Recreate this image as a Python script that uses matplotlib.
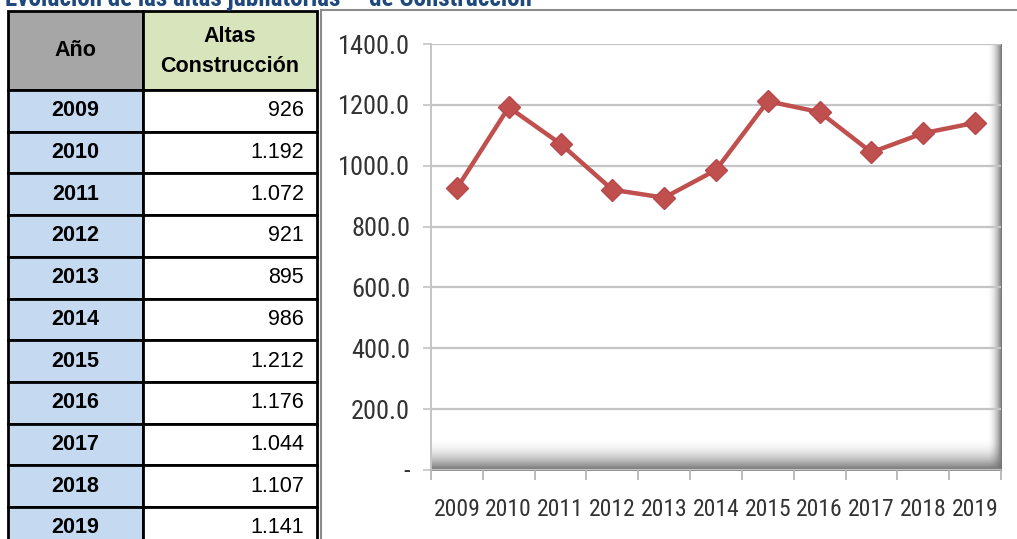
#!/usr/bin/env python3
"""Altas jubilatorias de Construccion: tabla + grafico de linea."""

import numpy as np
import matplotlib
matplotlib.use('Agg')
from matplotlib import pyplot as plt
from matplotlib import font_manager
from matplotlib.patches import Rectangle

# data
years = ['2009', '2010', '2011', '2012', '2013', '2014', '2015', '2016', '2017', '2018', '2019']
altas = [926, 1192, 1072, 921, 895, 986, 1212, 1176, 1044, 1107, 1141]
altas_txt = ['926', '1.192', '1.072', '921', '895', '986', '1.212', '1.176', '1.044', '1.107', '1.141']
yticks = [0, 200, 400, 600, 800, 1000, 1200, 1400]
ytick_labels = ['-', '200.0', '400.0', '600.0', '800.0', '1000.0', '1200.0', '1400.0']
title = 'Evolución de las altas jubilatorias     de Construcción'

W, H = 1017, 539
installed = {f.name for f in font_manager.fontManager.ttflist}
narrow = [f for f in ['Liberation Sans Narrow', 'Roboto Condensed', 'Lato'] if f in installed]
NARROW = narrow[:1] + ['DejaVu Sans']
ARIAL = ['Liberation Sans', 'DejaVu Sans']
is_lato = NARROW[0] == 'Lato'
xfs = 15 if is_lato else 17
yfs = 16 if is_lato else 19

fig = plt.figure(figsize=(W/100, H/100), dpi=100)
fig.patch.set_facecolor('white')

# pixel-space overlay for the table and frame
bg = fig.add_axes([0, 0, 1, 1])
bg.set_xlim(0, W)
bg.set_ylim(H, 0)
bg.axis('off')

# title, mostly clipped at the top edge
bg.text(5, 6, title, fontsize=18, fontweight='bold', color='#1f497d',
        family=NARROW, ha='left', va='baseline')

# table
x0, x1, x2 = 8, 143, 317
head_top, head_bot = 11, 90
row_h = 41.7
fs = 15.5
bg.add_patch(Rectangle((x0, head_top), x1-x0, head_bot-head_top, fc='#a6a6a6', ec='black', lw=2))
bg.add_patch(Rectangle((x1, head_top), x2-x1, head_bot-head_top, fc='#d8e4bc', ec='black', lw=2))
bg.text((x0+x1)/2, 50, 'Año', fontsize=fs, fontweight='bold', family=ARIAL, ha='center', va='center')
bg.text((x1+x2)/2, 36, 'Altas', fontsize=fs, fontweight='bold', family=ARIAL, ha='center', va='center')
bg.text((x1+x2)/2, 66, 'Construcción', fontsize=fs, fontweight='bold', family=ARIAL, ha='center', va='center')
for i, (yr, v) in enumerate(zip(years, altas_txt)):
    top = head_bot + i*row_h
    bg.add_patch(Rectangle((x0, top), x1-x0, row_h, fc='#c5d9f1', ec='black', lw=2))
    bg.add_patch(Rectangle((x1, top), x2-x1, row_h, fc='white', ec='black', lw=2))
    bg.text((x0+x1)/2, top + row_h/2, yr, fontsize=fs, fontweight='bold', family=ARIAL,
            ha='center', va='center')
    bg.text(304, top + row_h/2, v, fontsize=fs, family=ARIAL, ha='right', va='center')

# chart frame
bg.plot([321, 321], [10, H], color='#8c8c8c', lw=1.5)
bg.plot([321, W], [10, 10], color='#8c8c8c', lw=1.5)

# line chart
L, R, T, B = 431, 1001, 44, 470
ax = fig.add_axes([L/W, 1-B/H, (R-L)/W, (B-T)/H])
ax.set_facecolor('white')
x = np.arange(len(years))

# bevel shadows along the bottom and right side of the plot area
grad = np.zeros((50, 1, 4))
grad[..., :3] = 0.45
grad[:, 0, 3] = np.linspace(0, 1, 50)**2
ax.imshow(grad, extent=(0, 1, 0, 0.075), transform=ax.transAxes, aspect='auto', zorder=1)
gradr = np.zeros((1, 50, 4))
gradr[..., :3] = 0.45
gradr[0, :, 3] = np.linspace(0, 1, 50)**2
ax.imshow(gradr, extent=(0.975, 1, 0, 1), transform=ax.transAxes, aspect='auto', zorder=1)

ax.set_ylim(0, 1400)
ax.set_xlim(-0.5, len(years)-0.5)
ax.set_yticks(yticks)
ax.set_yticklabels(ytick_labels, family=NARROW, fontsize=yfs, color='#333333')
ax.yaxis.grid(True, color='#c4c4c4', lw=1.6, zorder=2)
ax.set_axisbelow(False)

ax.set_xticks(np.arange(-0.5, len(years)), minor=False)
ax.set_xticklabels([])
ax.set_xticks(x, minor=True)
ax.set_xticklabels(years, minor=True, family=NARROW, fontsize=xfs, color='#333333')
ax.tick_params(axis='x', which='major', length=7, color='#b0b0b0', width=1.2)
ax.tick_params(axis='x', which='minor', length=0, pad=20)
ax.tick_params(axis='y', length=6, color='#c4c4c4', width=1.2, pad=9)

for s in ['top', 'right']:
    ax.spines[s].set_visible(False)
ax.spines['left'].set_color('#c4c4c4')
ax.spines['left'].set_linewidth(1.4)
ax.spines['bottom'].set_color('#909090')
ax.spines['bottom'].set_linewidth(1.4)

ax.plot(x, altas, color='#c0504d', lw=3.2, marker='D', markersize=11,
        markeredgecolor='#b8474b', markeredgewidth=1, zorder=5, clip_on=False)

plt.savefig('out.png', dpi=100)
